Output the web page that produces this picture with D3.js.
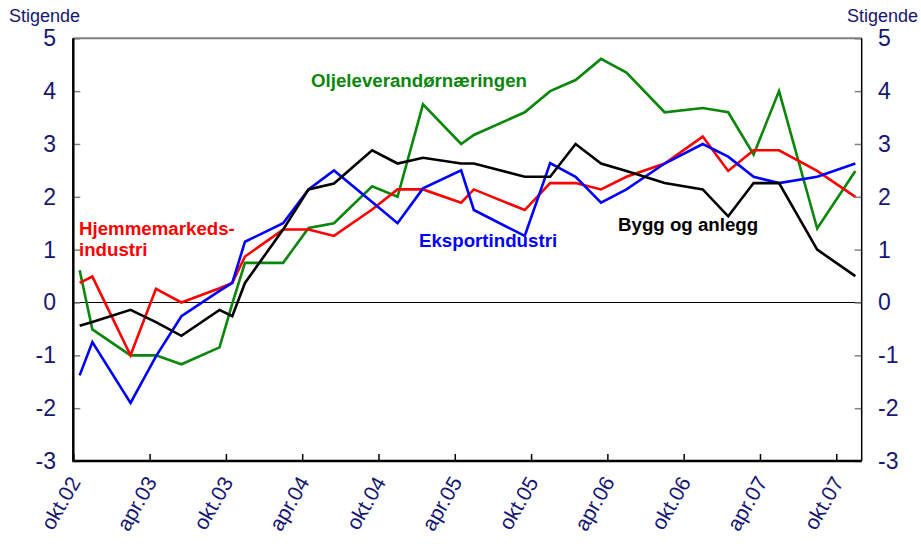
<!DOCTYPE html>
<html>
<head>
<meta charset="utf-8">
<script src="https://cdn.jsdelivr.net/npm/d3@7"></script>
<style>
  body { margin: 0; background: #fff; }
  text { font-family: Arial, "Liberation Sans", sans-serif; }
</style>
</head>
<body>
<script>
// survey months (index = months since okt.02, observation taken mid-month)
var months = [0, 1, 4, 6, 8, 11, 12, 13, 16, 18, 20, 23, 25, 27, 30, 31, 35, 37, 39, 41, 43, 46, 49, 51, 53, 55, 58, 61];

var hjemme = [0.37, 0.49, -1.0, 0.26, 0.0, 0.27, 0.37, 0.87, 1.38, 1.38, 1.26, 1.76, 2.14, 2.14,
  1.89, 2.14, 1.75, 2.26, 2.26, 2.14, 2.38, 2.63, 3.14, 2.49, 2.88, 2.88, 2.49, 2.0];
var eksport = [-1.38, -0.75, -1.9, -1.02, -0.26, 0.22, 0.37, 1.15, 1.5, 2.14, 2.5, 1.9, 1.5, 2.16,
  2.5, 1.75, 1.26, 2.64, 2.38, 1.89, 2.14, 2.63, 3.0, 2.76, 2.38, 2.26, 2.38, 2.63];
var olje = [0.61, -0.51, -1.0, -1.0, -1.17, -0.85, -0.02, 0.75, 0.75, 1.41, 1.5, 2.2, 2.0, 3.75,
  3.0, 3.17, 3.6, 4.0, 4.21, 4.61, 4.35, 3.6, 3.68, 3.6, 2.8, 4.0, 1.4, 2.49];
var bygg = [-0.44, -0.37, -0.14, -0.37, -0.63, -0.14, -0.26, 0.37, 1.38, 2.14, 2.25, 2.88, 2.63, 2.74,
  2.63, 2.63, 2.38, 2.38, 3.0, 2.63, 2.49, 2.26, 2.14, 1.63, 2.26, 2.26, 1.0, 0.5];

var tickMonths = [0, 6, 12, 18, 24, 30, 36, 42, 48, 54, 60];
var tickLabels = ["okt.02", "apr.03", "okt.03", "apr.04", "okt.04", "apr.05", "okt.05", "apr.06", "okt.06", "apr.07", "okt.07"];
var yTicks = [-3, -2, -1, 0, 1, 2, 3, 4, 5];

var navy = "#161673";

var svg = d3.select("body").append("svg")
    .attr("width", 921)
    .attr("height", 546);

var x = d3.scaleLinear()
    .domain([0, 62])
    .range([73.3, 861.7]);

var y = d3.scaleLinear()
    .domain([-3, 5])
    .range([461, 38.3]);

// top border
svg.append("line")
    .attr("x1", x(0)).attr("x2", x(62))
    .attr("y1", y(5)).attr("y2", y(5))
    .attr("stroke", "#808080").attr("stroke-width", 2);

// zero line
svg.append("line")
    .attr("x1", x(0)).attr("x2", x(62))
    .attr("y1", y(0)).attr("y2", y(0))
    .attr("stroke", "#000").attr("stroke-width", 1.2);

// left axis, ticks pointing inward
var leftAxis = d3.axisRight(y).tickValues(yTicks).tickSize(7).tickFormat("");
var gl = svg.append("g")
    .attr("transform", "translate(" + x(0) + ",0)")
    .call(leftAxis);
gl.select(".domain").remove();
gl.selectAll(".tick line").attr("stroke", "#808080").attr("stroke-width", 1.5);
svg.append("line")
    .attr("x1", x(0)).attr("x2", x(0))
    .attr("y1", y(5)).attr("y2", y(-3))
    .attr("stroke", "#000").attr("stroke-width", 2.5);

var rightAxis = d3.axisLeft(y).tickValues(yTicks).tickSize(7).tickFormat("");
var gr = svg.append("g")
    .attr("transform", "translate(" + x(62) + ",0)")
    .call(rightAxis);
gr.select(".domain").remove();
gr.selectAll(".tick line").attr("stroke", "#808080").attr("stroke-width", 1.5);
svg.append("line")
    .attr("x1", x(62)).attr("x2", x(62))
    .attr("y1", y(5)).attr("y2", y(-3))
    .attr("stroke", "#000").attr("stroke-width", 1.5);

// bottom axis
var bottomAxis = d3.axisTop(x).tickValues(tickMonths).tickSize(7).tickFormat("");
var gb = svg.append("g")
    .attr("transform", "translate(0," + y(-3) + ")")
    .call(bottomAxis);
gb.select(".domain").remove();
gb.selectAll(".tick line").attr("stroke", "#000").attr("stroke-width", 1.5);
svg.append("line")
    .attr("x1", x(0) - 1).attr("x2", x(62))
    .attr("y1", y(-3)).attr("y2", y(-3))
    .attr("stroke", "#000").attr("stroke-width", 2.5);

// y labels both sides
svg.selectAll(".ylab-l")
    .data(yTicks)
    .enter().append("text")
    .attr("class", "ylab-l")
    .attr("x", 56)
    .attr("y", d => y(d) + 8)
    .attr("text-anchor", "end")
    .attr("font-size", 23)
    .attr("fill", navy)
    .text(d => d);

svg.selectAll(".ylab-r")
    .data(yTicks)
    .enter().append("text")
    .attr("class", "ylab-r")
    .attr("x", 878)
    .attr("y", d => y(d) + 8)
    .attr("text-anchor", "start")
    .attr("font-size", 23)
    .attr("fill", navy)
    .text(d => d);

svg.append("text")
    .attr("x", 9).attr("y", 22)
    .attr("font-size", 18)
    .attr("fill", navy)
    .text("Stigende");

svg.append("text")
    .attr("x", 918).attr("y", 22)
    .attr("text-anchor", "end")
    .attr("font-size", 18)
    .attr("fill", navy)
    .text("Stigende");

// x labels rotated
svg.selectAll(".xlab")
    .data(tickMonths)
    .enter().append("text")
    .attr("class", "xlab")
    .attr("text-anchor", "end")
    .attr("font-size", 21)
    .attr("fill", navy)
    .attr("transform", (d, i) => "translate(" + (x(d) + 8) + ",482) rotate(-60)")
    .text((d, i) => tickLabels[i]);

// lines
var series = [
  { values: olje, color: "#0a870a" },
  { values: hjemme, color: "#ff0000" },
  { values: eksport, color: "#0000ff" },
  { values: bygg, color: "#000000" }
];

var line = d3.line()
    .x(d => x(d[0] + 0.5))
    .y(d => y(d[1]));

svg.selectAll(".series")
    .data(series)
    .enter().append("path")
    .attr("class", "series")
    .attr("fill", "none")
    .attr("stroke", d => d.color)
    .attr("stroke-width", 2.6)
    .attr("stroke-linejoin", "miter")
    .attr("d", d => line(months.map((m, i) => [m, d.values[i]])));

// series labels
function label(txt, lx, ly, color) {
  svg.append("text")
    .attr("x", lx).attr("y", ly)
    .attr("font-size", 18.7)
    .attr("font-weight", "bold")
    .attr("fill", color)
    .text(txt);
}
label("Oljeleverandørnæringen", 311, 87, "#0a870a");
label("Hjemmemarkeds-", 79, 235, "#ff0000");
label("industri", 79, 256, "#ff0000");
label("Eksportindustri", 419, 247, "#0000ff");
label("Bygg og anlegg", 618, 231, "#000000");
</script>
</body>
</html>
